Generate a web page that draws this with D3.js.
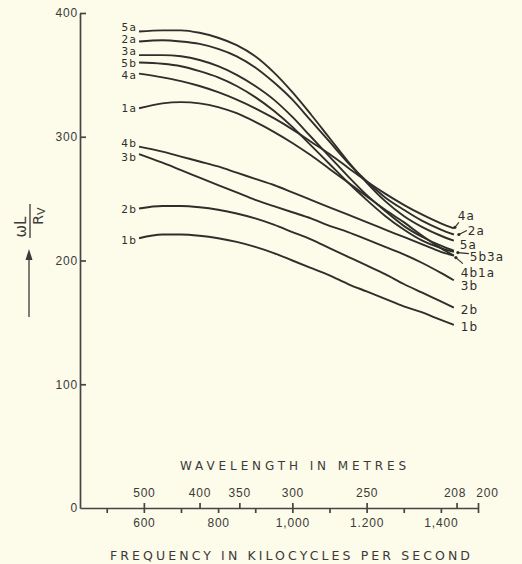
<!DOCTYPE html>
<html>
<head>
<meta charset="utf-8">
<script src="https://cdn.jsdelivr.net/npm/d3@7"></script>
<style>
    body { margin: 0; background: #fdfbea; }
    svg { display: block; font-family: "DejaVu Sans", Verdana, sans-serif; }
    .axis text { font-size: 12px; fill: #3a3a38; letter-spacing: 0.8px; }
    .axis path, .axis line { stroke: #454542; stroke-width: 1.7; }
</style>
</head>
<body>
<svg id="chart" width="522" height="564"></svg>
<script>
// frequency (kilocycles per second) at which each curve was read
var freq = [587, 650, 700, 750, 800, 850, 900, 950, 1000, 1050, 1100, 1150, 1200, 1250, 1300, 1350, 1400, 1435];

// wL / Rv
var coil5a = [385, 386, 386, 384, 380, 374, 365, 352, 336, 318, 299, 280, 263, 248, 236, 227, 220, 216];
var coil2a = [377, 378, 377, 375, 371, 365, 356, 344, 330, 313, 296, 279, 264, 251, 241, 232, 225, 221];
var coil3a = [366, 366, 365, 362, 357, 350, 341, 330, 316, 300, 284, 268, 253, 240, 228, 219, 212, 208];
var coil5b = [360, 359, 357, 353, 348, 341, 332, 321, 308, 293, 278, 263, 249, 236, 225, 216, 210, 207];
var coil4a = [351, 348, 345, 341, 336, 330, 323, 315, 306, 296, 286, 275, 264, 254, 245, 237, 230, 226];
var coil1a = [323, 327, 328, 327, 324, 319, 312, 304, 295, 285, 274, 263, 252, 241, 231, 220, 210, 204];
var coil4b = [292, 288, 284, 280, 276, 271, 266, 261, 255, 249, 243, 237, 231, 225, 219, 213, 207, 204];
var coil3b = [286, 279, 273, 267, 261, 255, 249, 244, 239, 234, 228, 223, 217, 211, 205, 198, 190, 184];
var coil2b = [242, 244, 244, 243, 241, 238, 234, 229, 223, 217, 210, 203, 196, 189, 181, 174, 167, 162];
var coil1b = [218, 221, 221, 220, 218, 215, 211, 206, 200, 194, 188, 181, 175, 169, 163, 158, 152, 148];

var seriesNames = ["5a", "2a", "3a", "5b", "4a", "1a", "4b", "3b", "2b", "1b"];
var seriesValues = [coil5a, coil2a, coil3a, coil5b, coil4a, coil1a, coil4b, coil3b, coil2b, coil1b];

var yTicks = [0, 100, 200, 300, 400];
var freqTicks = [500, 600, 700, 800, 900, 1000, 1100, 1200, 1300, 1400, 1500];
var freqLabelValues = [600, 800, 1000, 1200, 1400];
var freqLabelText = ["600", "800", "1,000", "1.200", "1,400"];
var waveTicks = [500, 400, 350, 300, 250, 208, 200];

// small vertical nudges for the names at the left-hand starts (same order as seriesNames)
var startNudge = [-5, -2.5, -4, 0.5, 1.5, 0, -4, 3, 0, 2];

// labels at the right-hand ends: which curve end they hang from, offset, and optional pointer
var endLabels = [
    { text: "4a", ref: "4a", dx: 4, dy: -12, arrow: [5, -6, 1, -1] },
    { text: "2a", ref: "2a", dx: 14, dy: -4, arrow: [13, -4, 5, 0] },
    { text: "5a", ref: "5a", dx: 6, dy: 4 },
    { text: "5b3a", ref: "3a", dx: 16, dy: 6, arrow: [15, 3, 4, 2] },
    { text: "4b1a", ref: "1a", dx: 7, dy: 17, arrow: [9, 8, 2, 2] },
    { text: "3b", ref: "3b", dx: 7, dy: 6 },
    { text: "2b", ref: "2b", dx: 7, dy: 2 },
    { text: "1b", ref: "1b", dx: 7, dy: 2 }
];

var svg = d3.select('#chart');
var ink = '#2e2e2b';

var x = d3.scaleLinear().domain([428, 1500]).range([80, 478]);
var y = d3.scaleLinear().domain([0, 400]).range([508, 13]);

var series = seriesNames.map(function (name, i) {
    return {
        name: name,
        nudge: startNudge[i],
        points: freq.map(function (f, j) {
            return { f: f, v: seriesValues[i][j] };
        })
    };
});

var line = d3.line()
    .x(function (d) { return x(d.f); })
    .y(function (d) { return y(d.v); })
    .curve(d3.curveMonotoneX);

svg.append('g').selectAll('path')
    .data(series)
    .enter().append('path')
    .attr('d', function (d) { return line(d.points); })
    .attr('fill', 'none')
    .attr('stroke', ink)
    .attr('stroke-width', 1.9);

// curve names at the left-hand starts
svg.append('g').selectAll('text')
    .data(series)
    .enter().append('text')
    .attr('x', function (d) { return x(d.points[0].f) - 2; })
    .attr('y', function (d) { return y(d.points[0].v) + 4 + d.nudge; })
    .attr('text-anchor', 'end')
    .style('font-size', '10.5px')
    .style('letter-spacing', '1.2px')
    .style('fill', ink)
    .text(function (d) { return d.name; });

// curve names at the right-hand ends
function endOf(name) {
    var s = series.filter(function (d) { return d.name === name; })[0];
    var p = s.points[s.points.length - 1];
    return [x(p.f), y(p.v)];
}

var endG = svg.append('g');
endLabels.forEach(function (lab) {
    var e = endOf(lab.ref);
    endG.append('text')
        .attr('x', e[0] + lab.dx)
        .attr('y', e[1] + lab.dy + 4)
        .style('font-size', '12px')
        .style('letter-spacing', '1px')
        .style('fill', ink)
        .text(lab.text);
    if (lab.arrow) {
        endG.append('line')
            .attr('x1', e[0] + lab.arrow[0]).attr('y1', e[1] + lab.arrow[1])
            .attr('x2', e[0] + lab.arrow[2]).attr('y2', e[1] + lab.arrow[3])
            .attr('stroke', ink)
            .attr('stroke-width', 1.1);
        endG.append('circle')
            .attr('cx', e[0] + lab.arrow[2]).attr('cy', e[1] + lab.arrow[3])
            .attr('r', 1.6)
            .attr('fill', ink);
    }
});

// y axis
svg.append('g')
    .attr('class', 'axis')
    .attr('transform', 'translate(' + x(428) + ',0)')
    .call(d3.axisLeft(y).tickValues(yTicks).tickSizeInner(-6).tickSizeOuter(0).tickPadding(2))
    .call(function (g) { g.selectAll('.tick line').filter(function (d) { return d === 0; }).remove(); });

// frequency axis (ticks down)
svg.append('g')
    .attr('class', 'axis')
    .attr('transform', 'translate(0,' + y(0) + ')')
    .call(d3.axisBottom(x).tickValues(freqTicks).tickSizeInner(5).tickSizeOuter(0).tickPadding(5)
        .tickFormat(function (d) {
            var k = freqLabelValues.indexOf(d);
            return k < 0 ? '' : freqLabelText[k];
        }));

// wavelength scale (ticks up), placed at the matching frequency
svg.append('g')
    .attr('class', 'axis')
    .attr('transform', 'translate(0,' + y(0) + ')')
    .call(d3.axisTop(x).tickValues(waveTicks.map(function (w) { return 300000 / w; }))
        .tickSizeInner(5).tickSizeOuter(0).tickPadding(6)
        .tickFormat(function (d) { return Math.round(300000 / d); }))
    .call(function (g) {
        g.select('.domain').remove();
        g.selectAll('.tick text').filter(function (d) { return Math.round(300000 / d) === 200; })
            .attr('dx', 9);
        g.selectAll('.tick text').filter(function (d) { return Math.round(300000 / d) === 208; })
            .attr('dx', -2);
    });

svg.append('text')
    .attr('x', 293).attr('y', 470)
    .attr('text-anchor', 'middle')
    .attr('textLength', 226).attr('lengthAdjust', 'spacing')
    .style('font-size', '12px')
    .style('fill', '#3a3a38')
    .text('WAVELENGTH IN  METRES');

svg.append('text')
    .attr('x', 290).attr('y', 560)
    .attr('text-anchor', 'middle')
    .attr('textLength', 360).attr('lengthAdjust', 'spacing')
    .style('font-size', '12.5px')
    .style('fill', '#3a3a38')
    .text('FREQUENCY IN KILOCYCLES PER SECOND');

// y label: wL over Rv, turned on its side, with an arrow beneath
var yl = svg.append('g').attr('transform', 'translate(30,221) rotate(-90)');
yl.append('text')
    .attr('x', -6).attr('y', -4)
    .attr('text-anchor', 'middle')
    .style('font-size', '15px')
    .style('fill', '#3a3a38')
    .text('\u03C9L');
yl.append('line')
    .attr('x1', -17).attr('x2', 17).attr('y1', 0).attr('y2', 0)
    .attr('stroke', '#3a3a38').attr('stroke-width', 1.3);
var den = yl.append('text')
    .attr('x', 5).attr('y', 13)
    .attr('text-anchor', 'middle')
    .style('font-size', '14px')
    .style('fill', '#3a3a38');
den.append('tspan').text('R');
den.append('tspan').attr('dy', 2).style('font-size', '11px').text('V');

svg.append('line')
    .attr('x1', 29).attr('x2', 29).attr('y1', 317).attr('y2', 258)
    .attr('stroke', '#3a3a38').attr('stroke-width', 1.3);
svg.append('path')
    .attr('d', 'M29,249 L25.5,260 L32.5,260 Z')
    .attr('fill', '#3a3a38');
</script>
</body>
</html>
